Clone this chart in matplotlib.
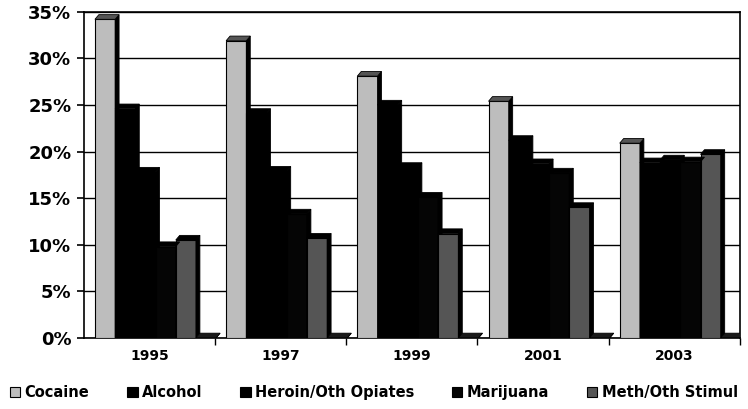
import matplotlib
matplotlib.use("Agg")
import matplotlib.pyplot as plt
from matplotlib.patches import Polygon

# share of admissions by primary drug
years = ["1995", "1997", "1999", "2001", "2003"]
cocaine = [34.2, 31.9, 28.1, 25.4, 20.9]
alcohol = [24.6, 24.1, 25.0, 21.2, 18.8]
heroin = [17.8, 17.9, 18.3, 18.7, 19.1]
marijuana = [9.8, 13.3, 15.1, 17.7, 18.9]
meth = [10.5, 10.7, 11.2, 14.0, 19.7]
other = [0.0, 0.0, 0.0, 0.0, 0.0]

series = [
    ("Cocaine", cocaine, "#bdbdbd", "#555555"),
    ("Alcohol", alcohol, "#000000", "#000000"),
    ("Heroin/Oth Opiates", heroin, "#000000", "#000000"),
    ("Marijuana", marijuana, "#050505", "#000000"),
    ("Meth/Oth Stimul", meth, "#555555", "#000000"),
    (None, other, "#000000", "#1a1a1a"),
]

plt.rcParams["font.family"] = "DejaVu Sans"
fig = plt.figure(figsize=(7.48, 4.09), dpi=100)
ax = fig.add_axes([0.112, 0.174, 0.877, 0.797])

width = 0.154
start = -0.5 + 0.085
dx, dy = 0.03, 0.5
handles = []
for k, (name, vals, col, topcol) in enumerate(series):
    xs = [i + start + k * width for i in range(len(years))]
    bars = ax.bar(xs, vals, width=width, align="edge", color=col,
                  edgecolor="black", linewidth=0.8, zorder=3, label=name)
    for x, v in zip(xs, vals):
        top = [(x, v), (x + dx, v + dy), (x + width + dx, v + dy), (x + width, v)]
        side = [(x + width, 0), (x + width + dx, dy), (x + width + dx, v + dy), (x + width, v)]
        ax.add_patch(Polygon(side, closed=True, facecolor="black", edgecolor="black",
                             linewidth=0.6, zorder=3))
        ax.add_patch(Polygon(top, closed=True, facecolor=topcol,
                             edgecolor="black", linewidth=0.6, zorder=4))
    if name:
        handles.append(bars)

ax.set_xlim(-0.5, 4.5)
ax.set_ylim(0, 35)
ax.set_yticks(range(0, 36, 5))
ax.set_yticklabels([f"{t}%" for t in range(0, 36, 5)], fontsize=13, fontweight="bold")
ax.set_xticks(range(len(years)))
ax.set_xticklabels(years, fontsize=10, fontweight="bold")
ax.set_xticks([i + 0.5 for i in range(len(years))], minor=True)
ax.tick_params(axis="x", which="major", length=0, pad=8)
ax.tick_params(axis="x", which="minor", length=5, width=1, direction="out")
ax.tick_params(axis="y", length=5, width=1.2, direction="out", pad=4)
ax.yaxis.grid(True, color="black", linewidth=1.0, zorder=0)
ax.set_axisbelow(True)
for s in ax.spines.values():
    s.set_linewidth(1.2)
    s.set_color("black")

fig.legend(handles=handles, loc="lower center", ncol=5, frameon=False,
           bbox_to_anchor=(0.5, -0.01), prop={"weight": "bold", "size": 10.5},
           handlelength=0.7, handleheight=0.7, handletextpad=0.3, columnspacing=2.6)

fig.savefig("out.png", dpi=100)
